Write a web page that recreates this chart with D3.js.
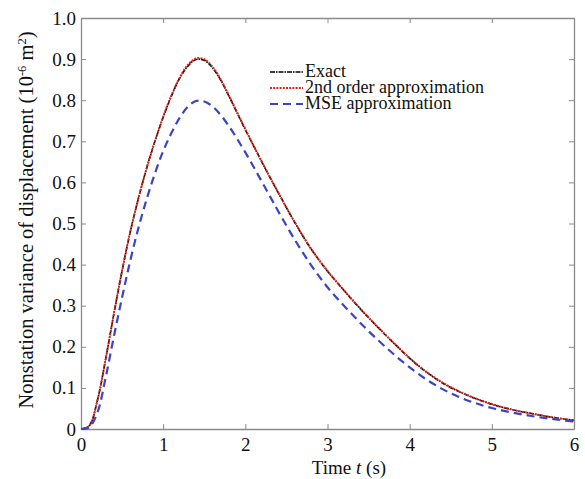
<!doctype html>
<html>
<head>
<script src="https://d3js.org/d3.v7.min.js"></script>
<style>
  body { margin: 0; background: #fff; }
  text { font-family: "Liberation Serif", "Times New Roman", serif; fill: #111; }
</style>
</head>
<body>
<script>
// time points (s) and variances (10^-6 m^2)
var tPoints = [0, 0.1, 0.2, 0.3, 0.4, 0.5, 0.6, 0.7, 0.8, 0.9, 1.0, 1.1, 1.2, 1.3, 1.4, 1.5, 1.6, 1.7, 1.8, 1.9, 2.0, 2.1, 2.2, 2.3, 2.4,
               2.6, 2.8, 3.0, 3.2, 3.4, 3.6, 3.8, 4.0, 4.2, 4.4, 4.6, 4.8, 5.0, 5.25, 5.5, 5.75, 6.0];
var exactVals = [0, 0.008, 0.07, 0.17, 0.28, 0.385, 0.48, 0.562, 0.635, 0.70, 0.758, 0.81, 0.853, 0.883, 0.899, 0.897, 0.879, 0.849, 0.81, 0.769, 0.728, 0.689, 0.65, 0.612, 0.575,
                 0.503, 0.438, 0.384, 0.337, 0.292, 0.25, 0.21, 0.172, 0.139, 0.112, 0.091, 0.074, 0.06, 0.047, 0.037, 0.028, 0.021];
var secondVals = [0, 0.008, 0.07, 0.17, 0.28, 0.385, 0.48, 0.562, 0.636, 0.701, 0.76, 0.812, 0.855, 0.886, 0.902, 0.9, 0.882, 0.851, 0.812, 0.771, 0.73, 0.69, 0.651, 0.613, 0.576,
                  0.504, 0.439, 0.385, 0.338, 0.293, 0.251, 0.211, 0.173, 0.14, 0.113, 0.092, 0.075, 0.061, 0.047, 0.037, 0.028, 0.021];
var mseVals = [0, 0.004, 0.04, 0.125, 0.225, 0.32, 0.41, 0.49, 0.56, 0.622, 0.676, 0.72, 0.757, 0.784, 0.798, 0.797, 0.785, 0.764, 0.737, 0.706, 0.673, 0.638, 0.602, 0.566, 0.53,
               0.461, 0.399, 0.345, 0.3, 0.258, 0.219, 0.183, 0.15, 0.121, 0.097, 0.078, 0.063, 0.051, 0.04, 0.031, 0.024, 0.018];
var xTicks = [0, 1, 2, 3, 4, 5, 6];
var yTicks = [0, 0.1, 0.2, 0.3, 0.4, 0.5, 0.6, 0.7, 0.8, 0.9, 1.0];
var seriesNames = ["Exact", "2nd order approximation", "MSE approximation"];

var width = 585, height = 479;
var margin = {top: 18, right: 11, bottom: 50, left: 81};
var plotW = width - margin.left - margin.right,
    plotH = height - margin.top - margin.bottom;

var svg = d3.select("body").append("svg")
    .attr("width", width)
    .attr("height", height);

var g = svg.append("g")
    .attr("transform", "translate(" + margin.left + "," + margin.top + ")");

var xScale = d3.scaleLinear().domain([0, 6]).range([0, plotW]);
var yScale = d3.scaleLinear().domain([0, 1]).range([plotH, 0]);

// box axes with inward ticks on all four sides
var axisColor = "#8a8a8a";
function styleAxis(sel) {
  sel.select(".domain").attr("stroke", axisColor).attr("stroke-width", 1.3);
  sel.selectAll(".tick line").attr("stroke", axisColor).attr("stroke-width", 1);
  sel.selectAll(".tick text")
    .style("font-family", "'Liberation Serif', serif")
    .style("font-size", "19px")
    .attr("fill", "#111");
}

g.append("g")
  .attr("transform", "translate(0," + plotH + ")")
  .call(d3.axisBottom(xScale).tickValues(xTicks).tickFormat(d3.format("d"))
        .tickSizeInner(-5).tickSizeOuter(0).tickPadding(9))
  .call(styleAxis);

g.append("g")
  .call(d3.axisTop(xScale).tickValues(xTicks).tickFormat("")
        .tickSizeInner(-5).tickSizeOuter(0))
  .call(styleAxis);

g.append("g")
  .call(d3.axisLeft(yScale).tickValues(yTicks)
        .tickFormat(function(d) { return d === 0 ? "0" : d3.format(".1f")(d); })
        .tickSizeInner(-5).tickSizeOuter(0).tickPadding(5))
  .call(styleAxis);

g.append("g")
  .attr("transform", "translate(" + plotW + ",0)")
  .call(d3.axisRight(yScale).tickValues(yTicks).tickFormat("")
        .tickSizeInner(-5).tickSizeOuter(0))
  .call(styleAxis);

var line = d3.line()
  .x(function(d) { return xScale(d[0]); })
  .y(function(d) { return yScale(d[1]); })
  .curve(d3.curveCatmullRom.alpha(0.5));

var series = [
  {name: seriesNames[0], vals: exactVals, color: "#000000", dash: "5,1,1.5,1", w: 1.6},
  {name: seriesNames[1], vals: secondVals, color: "#e3241b", dash: "2,1.2", w: 1.8},
  {name: seriesNames[2], vals: mseVals, color: "#3c44c4", dash: "8,5", w: 2.2}
];

series.forEach(function(s) {
  g.append("path")
    .datum(tPoints.map(function(t, i) { return [t, s.vals[i]]; }))
    .attr("fill", "none")
    .attr("stroke", s.color)
    .attr("stroke-width", s.w)
    .attr("stroke-dasharray", s.dash)
    .attr("d", line);
});

// legend
var legend = svg.append("g").attr("transform", "translate(270,72)");
series.forEach(function(s, i) {
  legend.append("line")
    .attr("x1", 0).attr("x2", 33)
    .attr("y1", i * 16).attr("y2", i * 16)
    .attr("stroke", s.color)
    .attr("stroke-width", s.w)
    .attr("stroke-dasharray", s.dash);
  legend.append("text")
    .attr("x", 35).attr("y", i * 16 + 5)
    .style("font-size", "18px")
    .text(s.name);
});

// axis titles
var xt = svg.append("text")
  .attr("x", 349).attr("y", 474)
  .attr("text-anchor", "middle")
  .style("font-size", "19px");
xt.append("tspan").text("Time ");
xt.append("tspan").style("font-style", "italic").text("t");
xt.append("tspan").text(" (s)");

var yt = svg.append("text")
  .attr("transform", "translate(33,220) rotate(-90)")
  .attr("text-anchor", "middle")
  .style("font-size", "20.5px");
yt.append("tspan").text("Nonstation variance of displacement (10");
yt.append("tspan").attr("dy", -7).style("font-size", "12.5px").text("-6");
yt.append("tspan").attr("dy", 7).text(" m");
yt.append("tspan").attr("dy", -7).style("font-size", "12.5px").text("2");
yt.append("tspan").attr("dy", 7).text(")");
</script>
</body>
</html>
